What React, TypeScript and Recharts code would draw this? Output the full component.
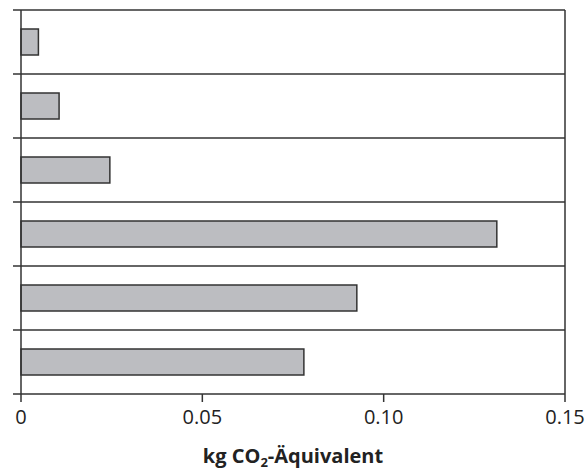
import React from "react";
import {
  BarChart,
  Bar,
  XAxis,
  YAxis,
  CartesianGrid,
  ReferenceLine,
} from "recharts";

// Six rows, top to bottom, emissions in kg CO2-equivalent
const categories = ["1", "2", "3", "4", "5", "6"];
const values = [0.0048, 0.0105, 0.0245, 0.1312, 0.0926, 0.078];

const xTicks = [0, 0.05, 0.1, 0.15];
const xTickLabels = ["0", "0.05", "0.10", "0.15"];

const data = categories.map((name, i) => ({ name, value: values[i] }));

const FONT = "'Open Sans', 'Noto Sans', sans-serif";
const LINE = "#333333";

// Separator lines sit on the edges of each category band
const rowEdges = ({ offset }: any) =>
  Array.from({ length: categories.length + 1 }, (_, i) =>
    offset.top + (i * offset.height) / categories.length
  );

// Short tick marks on the left axis at the band edges
const EdgeTick = (props: any) => {
  const { x, y, payload, index } = props;
  const half = payload?.offset ?? 0;
  const last = index === categories.length - 1;
  return (
    <g>
      <line x1={x - 8} x2={x} y1={y - half} y2={y - half} stroke={LINE} strokeWidth={1.5} />
      {last && (
        <line x1={x - 8} x2={x} y1={y + half} y2={y + half} stroke={LINE} strokeWidth={1.5} />
      )}
    </g>
  );
};

const AxisTitle = (props: any) => {
  const vb = props.viewBox || {};
  const cx = vb.x + vb.width / 2;
  const y = vb.y + 69;
  return (
    <text
      x={cx}
      y={y}
      textAnchor="middle"
      fontFamily={FONT}
      fontWeight="bold"
      fontSize={20}
      fill="#222"
    >
      <tspan>kg CO</tspan>
      <tspan dy={4} fontSize={13}>
        2
      </tspan>
      <tspan dy={-4}>-Äquivalent</tspan>
    </text>
  );
};

export default function App() {
  return (
    <div style={{ position: "absolute", left: 0, top: 0, background: "#fff" }}>
      <BarChart
        width={585}
        height={470}
        data={data}
        layout="vertical"
        margin={{ top: 10, right: 20, bottom: 0, left: 0 }}
      >
        <CartesianGrid
          vertical={false}
          stroke={LINE}
          strokeWidth={1.5}
          horizontalCoordinatesGenerator={rowEdges}
        />
        <XAxis
          type="number"
          domain={[0, 0.15]}
          ticks={xTicks}
          tickFormatter={(v: number) => xTickLabels[xTicks.indexOf(v)] ?? String(v)}
          height={76}
          tickSize={8}
          tickMargin={8}
          axisLine={false}
          tickLine={{ stroke: LINE, strokeWidth: 1.5 }}
          tick={{ fill: "#222", fontSize: 20, fontFamily: FONT }}
          interval={0}
          label={<AxisTitle />}
        />
        <YAxis
          type="category"
          dataKey="name"
          width={21}
          tickSize={0}
          tickMargin={0}
          tickLine={false}
          axisLine={{ stroke: LINE, strokeWidth: 1.5 }}
          tick={<EdgeTick />}
          interval={0}
        />
        <ReferenceLine x={0.15} stroke={LINE} strokeWidth={1.5} />
        <Bar
          dataKey="value"
          barSize={26}
          fill="#bcbdc1"
          stroke={LINE}
          strokeWidth={1.5}
          isAnimationActive={false}
        />
      </BarChart>
    </div>
  );
}
